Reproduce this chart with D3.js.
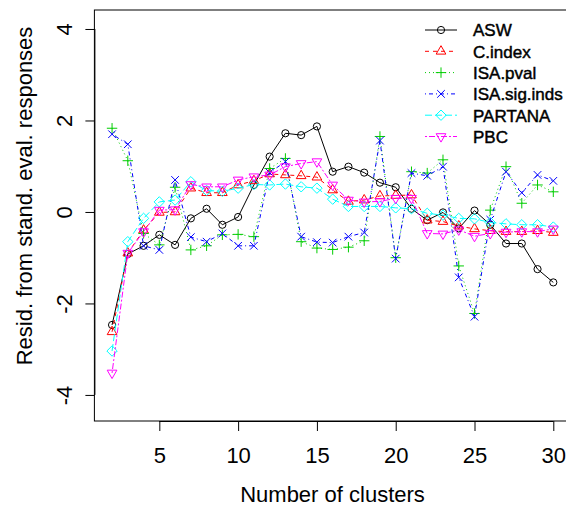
<!DOCTYPE html>
<html>
<head>
<meta charset="utf-8">
<script src="https://cdn.jsdelivr.net/npm/d3@7"></script>
<style>
  html, body { margin: 0; padding: 0; background: #fff; }
  svg { display: block; }
  text { font-family: "Liberation Sans", Arial, Helvetica, sans-serif; fill: #000; }
</style>
</head>
<body>
<svg id="chart" width="566" height="505"></svg>
<script>
const clusters = d3.range(2, 31);
const seriesNames = ["ASW", "C.index", "ISA.pval", "ISA.sig.inds", "PARTANA", "PBC"];
const ASW = [-2.47, -0.92, -0.74, -0.50, -0.72, -0.14, 0.07, -0.28, -0.11, 0.59, 1.21, 1.72, 1.68, 1.87, 0.88, 0.99, 0.86, 0.64, 0.54, 0.07, -0.18, -0.01, -0.36, 0.03, -0.28, -0.69, -0.69, -1.25, -1.54];
const Cindex = [-2.62, -0.90, -0.40, -0.01, 0.00, 0.52, 0.42, 0.42, 0.59, 0.68, 0.83, 0.81, 0.79, 0.76, 0.48, 0.23, 0.26, 0.35, 0.36, 0.37, -0.18, -0.21, -0.31, -0.37, -0.41, -0.43, -0.43, -0.41, -0.45];
const ISApval = [1.83, 1.12, -0.47, -0.72, 0.54, -0.83, -0.74, -0.50, -0.49, -0.54, 0.95, 1.17, -0.65, -0.79, -0.82, -0.77, -0.63, 1.65, -1.00, 0.88, 0.85, 1.14, -1.18, -2.22, 0.04, 0.99, 0.19, 0.59, 0.44];
const ISAsig = [1.70, 1.48, -0.74, -0.83, 0.70, -0.55, -0.65, -0.47, -0.74, -0.74, 0.86, 1.10, -0.54, -0.66, -0.67, -0.54, -0.45, 1.56, -1.02, 0.85, 0.79, 0.99, -1.43, -2.29, -0.17, 0.88, 0.42, 0.81, 0.68];
const PARTANA = [-3.04, -0.65, -0.14, 0.22, 0.26, 0.66, 0.47, 0.45, 0.52, 0.60, 0.59, 0.61, 0.55, 0.52, 0.28, 0.12, 0.12, 0.12, 0.09, 0.07, -0.03, -0.07, -0.14, -0.15, -0.23, -0.26, -0.28, -0.28, -0.33];
const PBC = [-3.52, -0.90, -0.43, 0.04, 0.05, 0.60, 0.55, 0.55, 0.70, 0.77, 0.81, 0.99, 1.06, 1.10, 0.59, 0.26, 0.22, 0.23, 0.30, 0.30, -0.47, -0.48, -0.39, -0.53, -0.47, -0.44, -0.43, -0.43, -0.37];
const xTicks = [5, 10, 15, 20, 25, 30];
const yTicks = [-4, -2, 0, 2, 4];

const seriesValues = [ASW, Cindex, ISApval, ISAsig, PARTANA, PBC];
const colors = ["#000000", "#FF0000", "#00CD00", "#0000FF", "#00FFFF", "#FF00FF"];
const dashes = [null, "4,4", "1,3", "1,3,4,3", "7,3", "2,2,6,2"];
const shapes = ["circle", "triUp", "plus", "cross", "diamond", "triDown"];

const svg = d3.select("#chart");
const x = d3.scaleLinear().domain([0.88, 31.12]).range([94.4, 570.95]);
const y = d3.scaleLinear().domain([-4.57, 4.415]).range([421, 10]);

function drawMarker(g, shape, cx, cy, color) {
  if (shape === "circle") {
    g.append("circle").attr("cx", cx).attr("cy", cy).attr("r", 3.6)
      .attr("fill", "none").attr("stroke", color).attr("stroke-width", 1);
    return;
  }
  let d;
  if (shape === "triUp") {
    const r = 5.6, h = r * Math.cos(Math.PI / 6);
    d = `M${cx},${cy - r}L${cx + h},${cy + r / 2}L${cx - h},${cy + r / 2}Z`;
  } else if (shape === "triDown") {
    const r = 5.6, h = r * Math.cos(Math.PI / 6);
    d = `M${cx},${cy + r}L${cx + h},${cy - r / 2}L${cx - h},${cy - r / 2}Z`;
  } else if (shape === "plus") {
    const r = 5.2;
    d = `M${cx - r},${cy}L${cx + r},${cy}M${cx},${cy - r}L${cx},${cy + r}`;
  } else if (shape === "cross") {
    const r = 3.8;
    d = `M${cx - r},${cy - r}L${cx + r},${cy + r}M${cx - r},${cy + r}L${cx + r},${cy - r}`;
  } else if (shape === "diamond") {
    const r = 5.2;
    d = `M${cx},${cy - r}L${cx + r},${cy}L${cx},${cy + r}L${cx - r},${cy}Z`;
  }
  g.append("path").attr("d", d).attr("fill", "none").attr("stroke", color).attr("stroke-width", 1);
}

const plotG = svg.append("g");
const line = d3.line().x(d => x(d[0])).y(d => y(d[1]));
seriesValues.forEach((vals, i) => {
  const pts = clusters.map((k, j) => [k, vals[j]]);
  const g = plotG.append("g");
  g.append("path").datum(pts).attr("d", line)
    .attr("fill", "none").attr("stroke", colors[i]).attr("stroke-width", 1)
    .attr("stroke-dasharray", dashes[i]);
  pts.forEach(p => drawMarker(g, shapes[i], x(p[0]), y(p[1]), colors[i]));
});

// box
svg.append("rect").attr("x", x.range()[0]).attr("y", 10)
  .attr("width", x.range()[1] - x.range()[0]).attr("height", 411)
  .attr("fill", "none").attr("stroke", "#000").attr("stroke-width", 1);

// x axis
const xAxis = d3.axisBottom(x).tickValues(xTicks).tickSize(10).tickPadding(10);
const xg = svg.append("g").attr("transform", "translate(0,421)").call(xAxis);
xg.select(".domain").attr("d", `M${x(5)},0.5H${x(30)}`);
xg.selectAll("text").attr("font-size", 22).attr("font-family", '"Liberation Sans", Arial, sans-serif')
  .attr("dy", null).attr("y", 41.5);

// y axis
const yAxis = d3.axisLeft(y).tickValues(yTicks).tickSize(9).tickFormat(d3.format("d"));
const yg = svg.append("g").attr("transform", `translate(${x.range()[0]},0)`).call(yAxis);
yg.select(".domain").attr("d", `M0.5,${y(-4)}V${y(4)}`);
yg.selectAll(".tick text").attr("font-size", 22).attr("font-family", '"Liberation Sans", Arial, sans-serif')
  .attr("x", null).attr("dy", null).attr("text-anchor", "middle")
  .attr("transform", "translate(-22,0) rotate(-90)");
yg.selectAll(".tick text").text(d => d < 0 ? "-" + Math.abs(d) : d);

// titles
svg.append("text").attr("x", 332.5).attr("y", 501.5).attr("text-anchor", "middle")
  .attr("font-size", 22).text("Number of clusters");
svg.append("text").attr("transform", "translate(31.5,196) rotate(-90)").attr("text-anchor", "middle")
  .attr("font-size", 22).text("Resid. from stand. eval. responses");

// legend
const leg = svg.append("g");
seriesNames.forEach((name, i) => {
  const ly = 30 + i * 21.3;
  const g = leg.append("g");
  g.append("line").attr("x1", 425).attr("x2", 457).attr("y1", ly).attr("y2", ly)
    .attr("stroke", colors[i]).attr("stroke-width", 1).attr("stroke-dasharray", dashes[i]);
  drawMarker(g, shapes[i], 441, ly, colors[i]);
  g.append("text").attr("x", 473).attr("y", ly + 6.3).attr("font-size", 17)
    .attr("stroke", "#000").attr("stroke-width", 0.45).text(name);
});
</script>
</body>
</html>
